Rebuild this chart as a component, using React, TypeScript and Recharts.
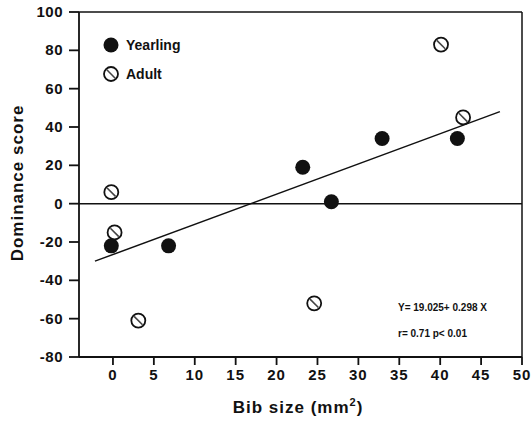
import React from "react";
import {
  ScatterChart,
  Scatter,
  XAxis,
  YAxis,
  ReferenceLine,
} from "recharts";

// bib size (mm2) and dominance score
const yearlingX = [-0.2, 6.8, 23.2, 26.7, 32.9, 42.1];
const yearlingY = [-22, -22, 19, 1, 34, 34];
const adultX = [-0.2, 0.2, 3.1, 24.6, 40.1, 42.8];
const adultY = [6, -15, -61, -52, 83, 45];

// fitted line ends
const fitX = [-2.2, 47.3];
const fitY = [-30, 48];

const xTicks = [0, 5, 10, 15, 20, 25, 30, 35, 40, 45, 50];
const yTicks = [-80, -60, -40, -20, 0, 20, 40, 60, 80, 100];

const yearling = yearlingX.map((x, i) => ({ x, y: yearlingY[i] }));
const adult = adultX.map((x, i) => ({ x, y: adultY[i] }));

const FONT = "'Liberation Sans', Arial, sans-serif";

function Filled({ cx, cy }: { cx?: number; cy?: number }) {
  return <circle cx={cx} cy={cy} r={7.5} fill="#111" />;
}

function Hatched({ cx = 0, cy = 0 }: { cx?: number; cy?: number }) {
  return (
    <g>
      <circle cx={cx} cy={cy} r={7} fill="#fff" stroke="#111" strokeWidth={1.8} />
      <line x1={cx - 4.2} y1={cy - 4.2} x2={cx + 4.2} y2={cy + 4.2} stroke="#444" strokeWidth={1.6} />
    </g>
  );
}

function XTick({ x, y, payload }: any) {
  return (
    <text x={x} y={y + 13} textAnchor="middle" fontSize={15} fontWeight={700} fontFamily={FONT} fill="#111" letterSpacing={1}>
      {payload.value}
    </text>
  );
}

function YTick({ x, y, payload }: any) {
  return (
    <text x={x - 2} y={y + 5} textAnchor="end" fontSize={15} fontWeight={700} fontFamily={FONT} fill="#111" letterSpacing={0.5}>
      {payload.value}
    </text>
  );
}

export default function App() {
  return (
    <div style={{ position: "absolute", left: 0, top: 0, width: 532, height: 426, background: "#fff", fontFamily: FONT }}>
      <ScatterChart width={532} height={426} margin={{ top: 12, right: 10, bottom: 0, left: 0 }}>
        <XAxis
          type="number"
          dataKey="x"
          domain={[-4.15, 50]}
          ticks={xTicks}
          allowDataOverflow
          height={69}
          tickSize={8}
          tickMargin={2}
          stroke="#111"
          strokeWidth={1.8}
          tick={<XTick />}
        />
        <YAxis
          type="number"
          dataKey="y"
          domain={[-80, 100]}
          ticks={yTicks}
          width={79}
          tickSize={10}
          tickMargin={4}
          stroke="#111"
          strokeWidth={1.8}
          tick={<YTick />}
        />
        <ReferenceLine y={100} stroke="#111" strokeWidth={1.5} />
        <ReferenceLine x={50} stroke="#111" strokeWidth={1.5} />
        <ReferenceLine y={0} stroke="#111" strokeWidth={1.5} />
        <ReferenceLine
          segment={[
            { x: fitX[0], y: fitY[0] },
            { x: fitX[1], y: fitY[1] },
          ]}
          stroke="#111"
          strokeWidth={1.5}
        />
        <Scatter name="Yearling" data={yearling} shape={<Filled />} isAnimationActive={false} />
        <Scatter name="Adult" data={adult} shape={<Hatched />} isAnimationActive={false} />
      </ScatterChart>

      {/* legend */}
      <svg style={{ position: "absolute", left: 100, top: 34 }} width={120} height={52}>
        <circle cx={11} cy={11} r={7.5} fill="#111" />
        <text x={26} y={16} fontSize={14} fontWeight={700} fontFamily={FONT} fill="#111">Yearling</text>
        <circle cx={11} cy={40} r={7} fill="#fff" stroke="#111" strokeWidth={1.8} />
        <line x1={6.8} y1={35.8} x2={15.2} y2={44.2} stroke="#444" strokeWidth={1.6} />
        <text x={26} y={45} fontSize={14} fontWeight={700} fontFamily={FONT} fill="#111">Adult</text>
      </svg>

      {/* regression annotation */}
      <div style={{ position: "absolute", left: 398, top: 295, fontSize: 10, fontWeight: 700, color: "#111", lineHeight: "26px" }}>
        <div>Y= 19.025+ 0.298 X</div>
        <div>r= 0.71 p&lt; 0.01</div>
      </div>

      {/* axis titles */}
      <div
        style={{
          position: "absolute",
          left: 298,
          top: 396,
          transform: "translateX(-50%)",
          fontSize: 17,
          fontWeight: 700,
          letterSpacing: 1,
          color: "#111",
          whiteSpace: "nowrap",
        }}
      >
        Bib size (mm<sup style={{ fontSize: 11 }}>2</sup>)
      </div>
      <div
        style={{
          position: "absolute",
          left: 18,
          top: 183,
          transform: "translate(-50%, -50%) rotate(-90deg)",
          fontSize: 17,
          fontWeight: 700,
          letterSpacing: 1,
          color: "#111",
          whiteSpace: "nowrap",
        }}
      >
        Dominance score
      </div>
    </div>
  );
}
